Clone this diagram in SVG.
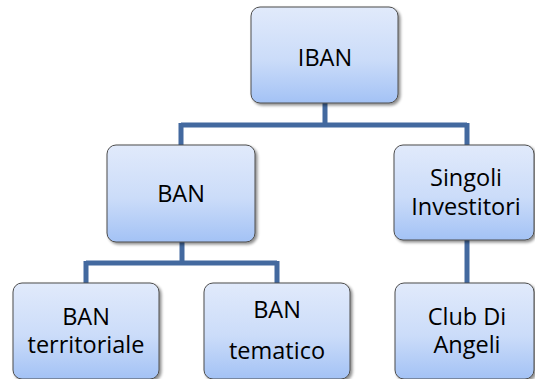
<svg xmlns="http://www.w3.org/2000/svg" width="535" height="379" viewBox="0 0 535 379">
  <style>
    .box { fill: url(#boxFill); stroke: #4d4d4d; stroke-width: 1; filter: url(#shadow); }
    .lbl { font-family: "Open Sans", "Noto Sans", "Liberation Sans", sans-serif; font-size: 23.5px; fill: #000; text-anchor: middle; }
    .wire { fill: none; stroke: #43699f; stroke-width: 5; stroke-linejoin: miter; }
  </style>
  <defs>
    <linearGradient id="boxFill" x1="0" y1="0" x2="0" y2="1">
      <stop offset="0" stop-color="#e1eafb"/>
      <stop offset="0.55" stop-color="#cbdcf9"/>
      <stop offset="1" stop-color="#a3c2f5"/>
    </linearGradient>
    <filter id="shadow" x="-10%" y="-10%" width="125%" height="125%">
      <feGaussianBlur in="SourceAlpha" stdDeviation="1.5"/>
      <feOffset dx="1.5" dy="2" result="off"/>
      <feComponentTransfer><feFuncA type="linear" slope="0.45"/></feComponentTransfer>
      <feMerge><feMergeNode/><feMergeNode in="SourceGraphic"/></feMerge>
    </filter>
  </defs>
  <rect width="535" height="379" fill="#ffffff"/>

  <g id="connectors">
    <path class="wire" d="M325 103 V125 M181 125 H467 M181 123 V145 M467 123 V145"/>
    <path class="wire" d="M182 242 V263 M86 263 H277 M86 261 V283 M277 261 V283"/>
    <path class="wire" d="M467 240 V283"/>
  </g>

  <g id="iban">
    <rect class="box" x="251" y="7" width="147" height="96" rx="9"/>
    <text class="lbl" x="325" y="66">IBAN</text>
  </g>
  <g id="ban">
    <rect class="box" x="107" y="145" width="148" height="97" rx="9"/>
    <text class="lbl" x="181" y="202">BAN</text>
  </g>
  <g id="singoli-investitori">
    <rect class="box" x="394" y="145" width="140" height="95" rx="9"/>
    <text class="lbl" x="466" y="186">Singoli</text>
    <text class="lbl" x="466" y="215">Investitori</text>
  </g>
  <g id="ban-territoriale">
    <rect class="box" x="13" y="283" width="146" height="96" rx="9"/>
    <text class="lbl" x="86" y="325">BAN</text>
    <text class="lbl" x="86" y="353">territoriale</text>
  </g>
  <g id="ban-tematico">
    <rect class="box" x="204" y="283" width="146" height="96" rx="9"/>
    <text class="lbl" x="277" y="318">BAN</text>
    <text class="lbl" x="277" y="359">tematico</text>
  </g>
  <g id="club-di-angeli">
    <rect class="box" x="395" y="283" width="139" height="96" rx="9"/>
    <text class="lbl" x="467" y="325">Club Di</text>
    <text class="lbl" x="467" y="353">Angeli</text>
  </g>
</svg>
